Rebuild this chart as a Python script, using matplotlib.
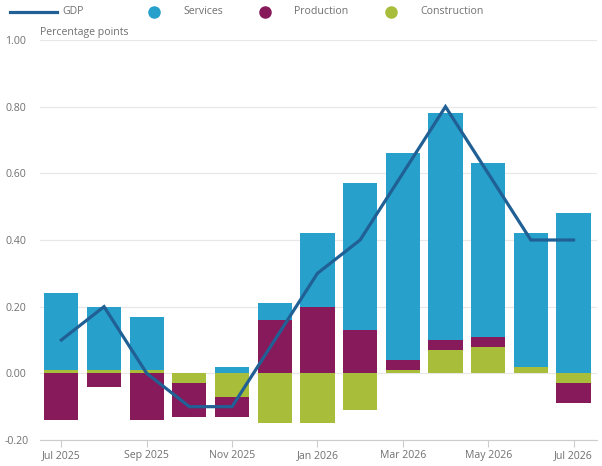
import numpy as np
import matplotlib.pyplot as plt
from matplotlib.lines import Line2D

plt.rcParams['font.family'] = ['Open Sans', 'DejaVu Sans']

# Data (percentage points)
months = ['Jul 2025', 'Aug 2025', 'Sep 2025', 'Oct 2025', 'Nov 2025', 'Dec 2025',
          'Jan 2026', 'Feb 2026', 'Mar 2026', 'Apr 2026', 'May 2026', 'Jun 2026', 'Jul 2026']
services = [0.23, 0.19, 0.16, 0.00, 0.02, 0.05, 0.22, 0.44, 0.62, 0.68, 0.52, 0.40, 0.48]
production = [-0.14, -0.04, -0.14, -0.10, -0.06, 0.16, 0.20, 0.13, 0.03, 0.03, 0.03, 0.00, -0.06]
construction = [0.01, 0.01, 0.01, -0.03, -0.07, -0.15, -0.15, -0.11, 0.01, 0.07, 0.08, 0.02, -0.03]
gdp = [0.10, 0.20, 0.00, -0.10, -0.10, 0.10, 0.30, 0.40, 0.60, 0.80, 0.60, 0.40, 0.40]

c_serv = '#27a0cc'
c_prod = '#871a5b'
c_cons = '#a8bd3a'
c_gdp = '#206095'
c_text = '#707070'

fig = plt.figure(figsize=(6.02, 4.66), dpi=100)
ax = fig.add_axes([40 / 602, 1 - 440 / 466, 557 / 602, 400 / 466])

x = np.arange(len(months))
pos_base = np.zeros(len(months))
neg_base = np.zeros(len(months))
# stack order from zero outwards: construction, production, services
for vals, col in [(construction, c_cons), (production, c_prod), (services, c_serv)]:
    v = np.array(vals)
    bottoms = np.where(v >= 0, pos_base, neg_base)
    ax.bar(x, v, bottom=bottoms, width=0.8, color=col, zorder=2)
    pos_base = pos_base + np.where(v > 0, v, 0)
    neg_base = neg_base + np.where(v < 0, v, 0)

ax.plot(x, gdp, color=c_gdp, linewidth=2.3, zorder=3, solid_joinstyle='miter')

ax.set_xlim(-0.5, 12.55)
ax.set_ylim(-0.2, 1.0)
ax.set_yticks(np.arange(-0.2, 1.01, 0.2))
ax.set_yticklabels(['%.2f' % v for v in np.arange(-0.2, 1.01, 0.2)])
ax.set_xticks(x[::2])
ax.set_xticklabels(months[::2])
ax.grid(axis='y', color='#e8e8e8', linewidth=0.9, zorder=0)
for s in ['top', 'right', 'left']:
    ax.spines[s].set_visible(False)
ax.spines['bottom'].set_color('#cccccc')
ax.tick_params(axis='y', length=0, colors=c_text, labelsize=7.6, pad=0)
ax.tick_params(axis='x', length=5, color='#cccccc', colors=c_text, labelsize=7.6, pad=2)
for lbl in ax.get_yticklabels():
    lbl.set_horizontalalignment('left')
    lbl.set_x(-35 / 557)

fig.text(40 / 602, 1 - 33 / 466, 'Percentage points', color=c_text, fontsize=7.6, va='center')

# legend across the top
ly = 1 - 11.5 / 466
fig.add_artist(Line2D([10 / 602, 57 / 602], [ly, ly], color=c_gdp, linewidth=2.3))
fig.text(62 / 602, ly, 'GDP', color=c_text, fontsize=7.6, va='center')
for xd, xt, col, name in [(154, 183, c_serv, 'Services'),
                           (265, 294, c_prod, 'Production'),
                           (391, 420, c_cons, 'Construction')]:
    fig.add_artist(Line2D([xd / 602], [ly], marker='o', markersize=8, color=col, linestyle=''))
    fig.text(xt / 602, ly, name, color=c_text, fontsize=7.6, va='center')

fig.savefig('out.png', dpi=100)
